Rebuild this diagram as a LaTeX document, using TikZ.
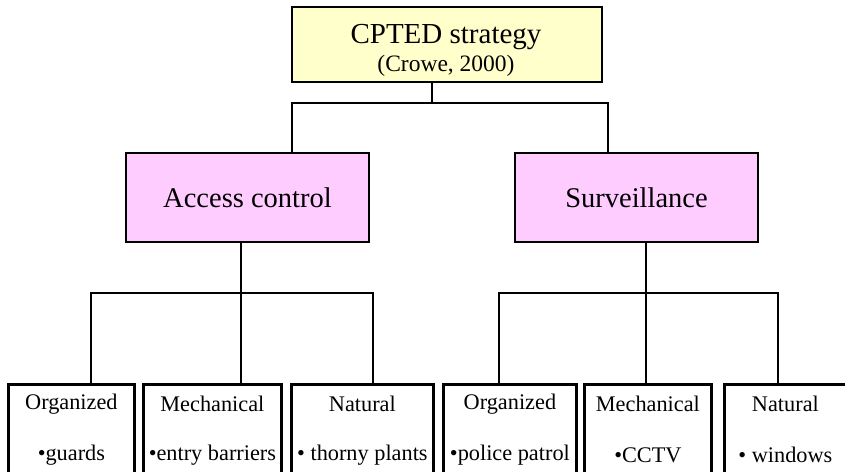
\documentclass[tikz,border=0pt]{standalone}
\usepackage{fontspec}
\setmainfont{Liberation Serif}
\usetikzlibrary{calc}
\definecolor{topfill}{RGB}{255,255,204}
\definecolor{midfill}{RGB}{255,204,255}
\begin{document}
\begin{tikzpicture}[x=1pt,y=-1pt,
  boxline/.style={draw=black,line width=2.8pt},
  topbox/.style={boxline,fill=topfill,minimum width=310pt,minimum height=75pt,inner sep=0pt},
  midbox/.style={boxline,fill=midfill,minimum width=243pt,minimum height=89pt,inner sep=0pt,font=\fontsize{28.5}{32}\selectfont},
  leafbox/.style={boxline,fill=white,minimum height=100pt,inner sep=0pt,anchor=north west},
  leaftxt/.style={font=\fontsize{22.3}{26}\selectfont,inner sep=0pt},
  conn/.style={draw=black,line width=2.4pt}]
\useasboundingbox (0,0) rectangle (845,471);
\clip (0,0) rectangle (845,471);
% top
\node[topbox] (top) at (447,44.5) {};
\node[font=\fontsize{29}{32}\selectfont,inner sep=0pt] (toptitle) at (446,37) {CPTED strategy};
\node[font=\fontsize{23.5}{26}\selectfont,inner sep=0pt] (topsub) at (446,66) {(Crowe, 2000)};
% middle
\node[midbox] (ac) at (247.5,197.5) {Access control};
\node[midbox] (sv) at (636.5,197.5) {Surveillance};
% leaves
\node[leafbox,minimum width=126pt] (b1) at (7,383) {};
\node[leafbox,minimum width=138pt] (b2) at (142,383) {};
\node[leafbox,minimum width=142pt] (b3) at (290,383) {};
\node[leafbox,minimum width=133pt] (b4) at (442,383) {};
\node[leafbox,minimum width=127pt] (b5) at (583,383) {};
\node[leafbox,minimum width=122pt] (b6) at (723,383) {};
\foreach \b/\h/\t in {b1/Organized/{•guards},b2/Mechanical/{•entry barriers},b3/Natural/{• thorny plants},b4/Organized/{•police patrol},b5/Mechanical/{•CCTV},b6/Natural/{• windows}}{
  \node[leaftxt] (\b h) at ($(\b.north)+(0,21)$) {\h};
  \node[leaftxt] (\b t) at ($(\b.north)+(0,72)$) {\t};
}
% connectors level 1
\coordinate (j1) at (432,103);
\coordinate (l1) at (292,103);
\coordinate (r1) at (608,103);
\draw[conn] (top.south -| j1) -- (j1);
\draw[conn] (ac.north -| l1) -- (l1) -- (r1) -- (sv.north -| r1);
% connectors level 2 left
\coordinate (j2) at (241,293);
\coordinate (l2) at (91,293);
\coordinate (r2) at (373,293);
\draw[conn] (ac.south -| j2) -- (j2 |- b2.north);
\draw[conn] (b1.north -| l2) -- (l2) -- (r2) -- (b3.north -| r2);
% connectors level 2 right
\coordinate (j3) at (646,293);
\coordinate (l3) at (499,293);
\coordinate (r3) at (778,293);
\draw[conn] (sv.south -| j3) -- (j3 |- b5.north);
\draw[conn] (b4.north -| l3) -- (l3) -- (r3) -- (b6.north -| r3);
\end{tikzpicture}
\end{document}
